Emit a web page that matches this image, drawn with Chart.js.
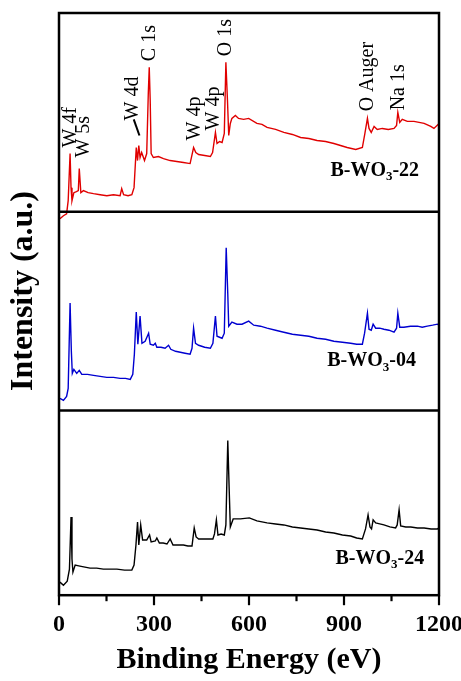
<!DOCTYPE html>
<html>
<head>
<meta charset="utf-8">
<script src="https://cdn.jsdelivr.net/npm/chart.js@4.4.1/dist/chart.umd.min.js"></script>
<style>
  html, body { margin: 0; background: #fff; }
  #wrap { width: 461px; height: 681px; }
</style>
</head>
<body>
<div id="wrap"><canvas id="xps"></canvas></div>
<script>
// B-WO3-22 (top, red)
const e22 = [3,14,24,29,35,38,41,47,55,61,64,69,77,92,109,130,151,172,193,198,204,218,230,237,244,248,252,256,261,270,277,282,285,288,291,298,314,330,351,372,393,414,425,432,441,460,478,485,494,499,507,515,522,527,532,536,541,546,557,567,583,599,625,641,657,684,710,737,763,789,815,842,868,889,910,937,958,966,974,979,986,995,1005,1021,1040,1058,1066,1070,1076,1084,1100,1121,1137,1153,1174,1184,1197,1200];
const i22 = [-7,-4,-2,11,58,24,11,19,20,21,43,19,21,19,18,17,16,17,16,23,17,16,17,24,64,51,66,54,59,51,58,118,144,111,58,54,55,53,51,50,49,48,64,59,57,56,55,59,79,68,70,69,78,149,111,76,88,93,96,93,92,93,88,87,84,82,79,77,74,73,71,70,68,66,64,62,64,78,93,83,79,85,82,83,82,83,86,99,89,92,90,90,89,88,85,83,87,86];

// B-WO3-04 (middle, blue)
const e04 = [3,14,24,29,35,39,42,47,56,64,72,90,109,130,151,172,193,210,225,233,238,244,249,256,262,272,283,288,298,304,309,322,335,346,353,368,383,398,414,420,425,431,441,460,478,486,494,499,507,515,522,528,533,536,546,562,578,599,615,636,657,684,710,737,763,789,815,842,868,895,921,940,958,965,974,979,986,992,1000,1013,1026,1042,1058,1066,1070,1076,1089,1110,1132,1147,1163,1180,1195,1200];
const i04 = [12,10,14,22,107,59,37,41,37,40,36,36,35,34,33,33,32,32,31,36,56,98,66,94,67,69,77,66,65,67,63,63,62,65,61,59,58,57,56,62,82,67,65,63,62,67,94,74,73,72,77,162,116,84,88,86,86,89,85,84,82,80,78,76,75,74,72,71,69,68,67,66,66,77,97,81,80,86,82,82,81,80,78,82,97,83,83,84,84,83,84,85,86,85];

// B-WO3-24 (bottom, black)
const e24 = [3,14,26,33,38,41,44,51,66,82,98,119,140,162,183,207,230,237,243,248,252,258,264,277,286,291,304,309,317,329,341,351,360,376,393,407,420,427,433,441,463,486,491,497,502,512,522,527,533,537,541,550,573,601,625,641,657,684,710,737,763,789,815,842,868,895,921,940,958,968,976,982,987,992,1000,1013,1026,1045,1063,1068,1074,1079,1095,1111,1132,1153,1175,1195,1200];
const i24 = [13,10,14,26,78,36,23,30,29,28,27,27,26,26,26,25,25,30,50,73,50,70,55,55,60,53,54,57,52,52,51,56,50,50,50,49,49,67,58,56,56,56,61,75,60,61,60,70,154,110,68,76,76,77,74,73,72,71,70,68,67,66,65,63,62,60,59,57,56,66,80,68,66,75,72,71,70,68,67,70,85,69,68,68,67,67,66,66,67];

// vertical stacking of the three spectra (a.u.)
const offsets = { s24: 0, s04: 184, s22: 382 };
const panelBreaks = [184, 382];
const xTicks = [0, 300, 600, 900, 1200];

// peak assignments on the top spectrum: [text, eV, a.u. where text starts]
const peakLabels = [
  ['W 4f', 38, 446],
  ['W 5s', 78, 436],
  ['W 4d', 233, 473],
  ['C 1s', 288, 532],
  ['W 4p', 430, 453],
  ['W 4p', 490, 463],
  ['O 1s', 527, 537],
  ['O Auger', 976, 482],
  ['Na 1s', 1073, 483]
];
// sample names: [suffix, eV left edge, a.u.]
const sampleLabels = [
  ['-22', 857, 423],
  ['-04', 847, 233],
  ['-24', 873, 36]
];

const serif = '"Liberation Serif", "Times New Roman", serif';
Chart.defaults.font.family = serif;
Chart.defaults.color = '#000';

function pts(e, v, off) {
  return e.map((x, k) => ({ x: x, y: v[k] + off }));
}

const decor = {
  id: 'decor',
  afterDatasetsDraw(chart) {
    const { ctx, chartArea: a, scales: { x, y } } = chart;
    ctx.save();
    ctx.strokeStyle = '#000';
    ctx.lineWidth = 2.5;
    ctx.strokeRect(a.left, a.top, a.right - a.left, a.bottom - a.top);
    panelBreaks.forEach(v => {
      const py = y.getPixelForValue(v);
      ctx.beginPath(); ctx.moveTo(a.left, py); ctx.lineTo(a.right, py); ctx.stroke();
    });
    // major + minor tick marks, outward
    ctx.lineWidth = 2.2;
    x.ticks.forEach(t => {
      const px = x.getPixelForValue(t.value);
      const len = xTicks.includes(t.value) ? 10 : 6;
      ctx.beginPath(); ctx.moveTo(px, a.bottom); ctx.lineTo(px, a.bottom + len); ctx.stroke();
    });

    // pointer line next to W 4d
    ctx.lineWidth = 2;
    ctx.beginPath();
    ctx.moveTo(x.getPixelForValue(236), y.getPixelForValue(474));
    ctx.lineTo(x.getPixelForValue(254), y.getPixelForValue(458));
    ctx.stroke();

    ctx.fillStyle = '#000';
    ctx.font = '20px ' + serif;
    ctx.textAlign = 'left';
    ctx.textBaseline = 'middle';
    peakLabels.forEach(([txt, e, v]) => {
      ctx.save();
      ctx.translate(x.getPixelForValue(e), y.getPixelForValue(v));
      ctx.rotate(-Math.PI / 2);
      ctx.fillText(txt, 0, 0);
      ctx.restore();
    });

    sampleLabels.forEach(([suf, e, v]) => {
      let px = x.getPixelForValue(e);
      const py = y.getPixelForValue(v);
      ctx.font = 'bold 20px ' + serif;
      ctx.fillText('B-WO', px, py);
      px += ctx.measureText('B-WO').width;
      ctx.font = 'bold 13px ' + serif;
      ctx.fillText('3', px, py + 6);
      px += ctx.measureText('3').width;
      ctx.font = 'bold 20px ' + serif;
      ctx.fillText(suf, px, py);
    });

    // y-axis title
    ctx.save();
    ctx.font = 'bold 32px ' + serif;
    ctx.textAlign = 'center';
    ctx.translate(24, 291);
    ctx.rotate(-Math.PI / 2);
    ctx.fillText('Intensity (a.u.)', 0, 0);
    ctx.restore();
    ctx.restore();
  }
};

new Chart(document.getElementById('xps'), {
  type: 'line',
  data: {
    datasets: [
      { label: 'B-WO3-22', data: pts(e22, i22, offsets.s22), borderColor: '#e00000' },
      { label: 'B-WO3-04', data: pts(e04, i04, offsets.s04), borderColor: '#0000d0' },
      { label: 'B-WO3-24', data: pts(e24, i24, offsets.s24), borderColor: '#000000' }
    ]
  },
  options: {
    responsive: true,
    maintainAspectRatio: false,
    animation: false,
    elements: {
      line: { borderWidth: 1.4, tension: 0 },
      point: { radius: 0 }
    },
    layout: { padding: { left: 59, right: 22, top: 13, bottom: 3 } },
    plugins: { legend: { display: false }, tooltip: { enabled: false } },
    scales: {
      x: {
        type: 'linear',
        min: 0,
        max: 1200,
        grid: { display: false, drawTicks: false },
        border: { display: false },
        afterFit: s => { s.paddingLeft = 0; s.paddingRight = 0; },
        ticks: {
          stepSize: 150,
          autoSkip: false,
          maxRotation: 0,
          padding: 15,
          font: { size: 24, weight: 'bold' },
          callback: v => (xTicks.includes(v) ? v : '')
        },
        title: {
          display: true,
          text: 'Binding Energy (eV)',
          font: { size: 30, weight: 'bold' },
          padding: { top: -12, bottom: 0 }
        }
      },
      y: { display: false, min: 0, max: 580 }
    }
  },
  plugins: [decor]
});
</script>
</body>
</html>
